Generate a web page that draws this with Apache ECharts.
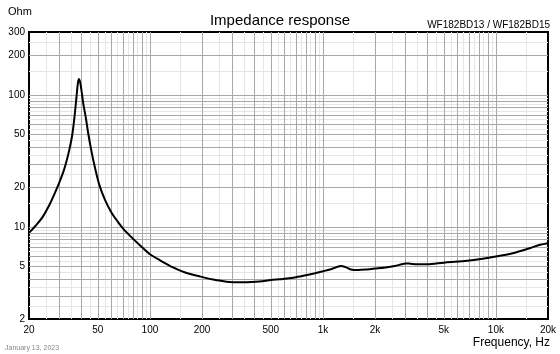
<!DOCTYPE html>
<html>
<head>
<meta charset="utf-8">
<script src="https://cdn.jsdelivr.net/npm/echarts@6/dist/echarts.min.js"></script>
<style>
  html, body { margin: 0; padding: 0; background: #fff; }
  #main { width: 560px; height: 354px; }
</style>
</head>
<body>
<div id="main"></div>
<script>
// impedance curve
var freq = [20, 22, 24, 26, 28, 30, 32, 34, 35.5, 36.5, 37.5, 38.2, 38.8, 39.5, 40.3, 41.2, 42.7, 44, 46, 48, 51, 55, 60, 65, 70, 80, 90, 100, 115, 137, 160, 195, 240, 300, 360, 430, 500, 560, 620, 700, 800, 900, 1000, 1100, 1200, 1270, 1350, 1450, 1600, 1800, 2000, 2300, 2600, 2850, 3000, 3200, 3500, 4000, 5000, 6000, 7000, 8000, 10000, 12500, 15000, 16500, 18000, 20000];
var ohm = [9.0, 10.3, 11.9, 14.3, 17.6, 21.8, 27.5, 37, 49, 65, 92, 118, 132, 125, 106, 86, 66, 51, 37, 28.5, 20.8, 16, 12.8, 11.0, 9.7, 8.1, 7.0, 6.2, 5.55, 4.9, 4.5, 4.2, 3.95, 3.8, 3.8, 3.85, 3.95, 4.0, 4.05, 4.15, 4.3, 4.45, 4.6, 4.75, 4.95, 5.05, 4.95, 4.75, 4.7, 4.75, 4.82, 4.92, 5.05, 5.2, 5.28, 5.25, 5.2, 5.2, 5.35, 5.45, 5.55, 5.68, 5.95, 6.3, 6.75, 7.05, 7.3, 7.5];

var xTicks = [20, 50, 100, 200, 500, 1000, 2000, 5000, 10000, 20000];
var yTicks = [2, 5, 10, 20, 50, 100, 200, 300];

// grid line multiples per decade
var majorSteps = [1, 2, 3, 4, 5, 6, 7, 8, 9];
var minorSteps = [1.5, 2.5, 3.5, 4.5, 5.5, 6.5, 7.5, 8.5, 9.5];
var xDecades = [10, 100, 1000, 10000];
var yDecades = [1, 10, 100];

function gridLines(decades, steps, lo, hi, key, color) {
  var out = [];
  decades.forEach(function (d) {
    steps.forEach(function (s) {
      var v = d * s;
      if (v > lo && v < hi) {
        var item = { lineStyle: { color: color, width: 1, type: 'solid' } };
        item[key] = v;
        out.push(item);
      }
    });
  });
  return out;
}

var lines = []
  .concat(gridLines(xDecades, minorSteps, 20, 20000, 'xAxis', '#e6e6e6'))
  .concat(gridLines(yDecades, minorSteps, 2, 300, 'yAxis', '#e6e6e6'))
  .concat(gridLines(xDecades, majorSteps, 20, 20000, 'xAxis', '#a8a8a8'))
  .concat(gridLines(yDecades, majorSteps, 2, 300, 'yAxis', '#a8a8a8'));

var data = freq.map(function (f, i) { return [f, ohm[i]]; });

var chart = echarts.init(document.getElementById('main'));
var option = {
  animation: false,
  textStyle: { fontFamily: 'Liberation Sans, Arial, sans-serif' },
  title: {
    text: 'Impedance response',
    left: 'center',
    top: 8,
    textStyle: { fontSize: 15, fontWeight: 'normal', color: '#000', fontFamily: 'Liberation Sans, Arial, sans-serif' }
  },
  graphic: [
    { type: 'text', left: 8, top: 6, style: { text: 'Ohm', fontSize: 11, fill: '#000', fontFamily: 'Liberation Sans, Arial, sans-serif' } },
    { type: 'text', right: 10, top: 20, style: { text: 'WF182BD13 / WF182BD15', fontSize: 10, fill: '#000', fontFamily: 'Liberation Sans, Arial, sans-serif' } },
    { type: 'text', right: 10, top: 337, style: { text: 'Frequency, Hz', fontSize: 12, fill: '#000', fontFamily: 'Liberation Sans, Arial, sans-serif' } },
    { type: 'text', left: 5, top: 345, style: { text: 'January 13, 2023', fontSize: 7, fill: '#888', fontFamily: 'Liberation Sans, Arial, sans-serif' } }
  ],
  grid: {
    left: 29, right: 12, top: 32, bottom: 35,
    show: true, borderColor: '#000', borderWidth: 2, backgroundColor: '#fff'
  },
  xAxis: {
    type: 'log', logBase: 10, min: 20, max: 20000,
    axisLine: { show: false },
    axisTick: { show: false },
    splitLine: { show: false },
    minorSplitLine: { show: false },
    axisLabel: {
      customValues: xTicks,
      fontSize: 10, color: '#000', margin: 6,
      formatter: function (v) { return v >= 1000 ? (v / 1000) + 'k' : String(v); }
    }
  },
  yAxis: {
    type: 'log', logBase: 10, min: 2, max: 300,
    axisLine: { show: false },
    axisTick: { show: false },
    splitLine: { show: false },
    axisLabel: { customValues: yTicks, fontSize: 10, color: '#000', margin: 4 }
  },
  series: [
    {
      type: 'line',
      data: [],
      z: 1,
      silent: true,
      markLine: {
        silent: true, symbol: 'none', animation: false,
        label: { show: false },
        emphasis: { disabled: true },
        data: lines
      }
    },
    {
      type: 'line',
      data: data,
      z: 10,
      smooth: 0.3,
      showSymbol: false,
      lineStyle: { color: '#000', width: 2 }
    }
  ]
};
chart.setOption(option);
</script>
</body>
</html>
